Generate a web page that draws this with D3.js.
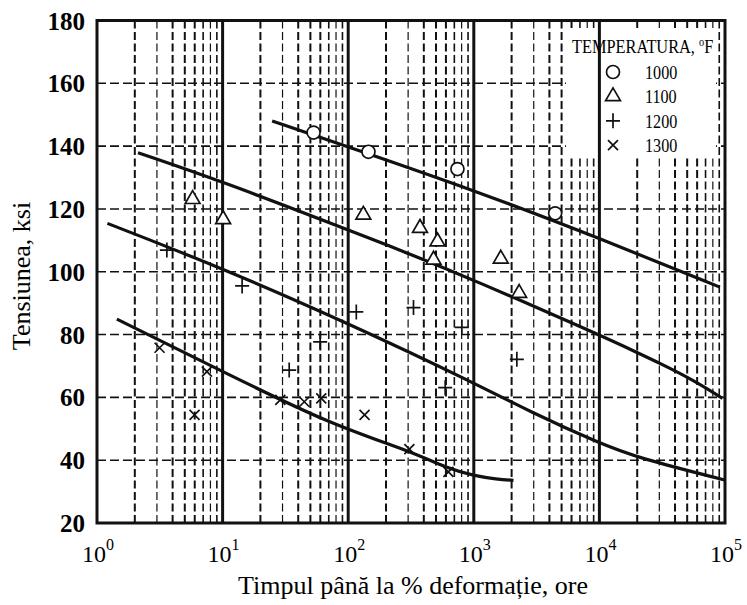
<!DOCTYPE html>
<html>
<head>
<meta charset="utf-8">
<script src="https://cdn.jsdelivr.net/npm/d3@7"></script>
<style>
  body { margin: 0; background: #fff; }
  svg { display: block; }
  text { font-family: "Liberation Serif", "DejaVu Serif", serif; }
</style>
</head>
<body>
<div id="chart"></div>
<script>
// creep curves: stress vs time to % strain, by temperature

// legend / series names
var temps = ["1000", "1100", "1200", "1300"]

// measured points (time in hours, stress in ksi)
var t1000 = [53, 145, 741, 4445]
var s1000 = [144.3, 138.2, 132.7, 118.6]
var t1100 = [5.77, 10.1, 132, 373, 514, 478, 1640, 2296]
var s1100 = [123.1, 116.7, 118.1, 113.9, 109.6, 103.8, 104.1, 93.2]
var t1200 = [3.6, 14.3, 33.9, 59.8, 116, 331, 803, 592, 2202]
var s1200 = [106.9, 95.5, 68.7, 77.7, 87.2, 88.6, 82.3, 63.1, 72.1]
var t1300 = [3.15, 7.5, 5.98, 28.8, 44.7, 61, 135, 307, 628]
var s1300 = [75.8, 68.2, 54.4, 59.2, 58.6, 59.7, 54.4, 43.5, 36.3]

// fitted curves
var c1000t = [24.8, 100, 1000, 10000, 91000]
var c1000s = [148.0, 139.8, 126.0, 110.7, 95.1]
var c1100t = [2.12, 10, 100, 259, 1000, 10000, 20700, 30200, 56200, 95500]
var c1100s = [137.9, 128.7, 113.3, 106.9, 97.4, 79.9, 74.0, 70.9, 65.5, 59.7]
var c1200t = [1.21, 10, 100, 1000, 2810, 10000, 20700, 99500]
var c1200s = [115.4, 101.1, 83.6, 64.7, 55.4, 45.4, 40.6, 33.7]
var c1300t = [1.44, 10, 72, 312, 628, 1000, 1525, 2070]
var c1300s = [84.9, 68.2, 51.4, 42.9, 37.2, 35.1, 33.9, 33.6]

// axis ticks
var xDecades = [1, 10, 100, 1000, 10000, 100000]
var xExp = ["0", "1", "2", "3", "4", "5"]
var yTicks = [20, 40, 60, 80, 100, 120, 140, 160, 180]

var width = 747, height = 605
var margin = {top: 20.5, right: 22, bottom: 82, left: 97}
var serif = "Liberation Serif"

var svg = d3.select("#chart")
    .append("svg")
    .attr("width", width)
    .attr("height", height)

var x = d3.scaleLog()
    .domain([1, 1e5])
    .range([margin.left, width - margin.right])
var y = d3.scaleLinear()
    .domain([20, 180])
    .range([height - margin.bottom, margin.top])

// minor vertical grid (2..9 in every decade)
var mant = function(t) { return Math.round(t / Math.pow(10, Math.floor(Math.log10(t) + 1e-9))) }
var minorW = {2: 2, 3: 1.2, 4: 2, 5: 2, 6: 2, 7: 1.6, 8: 1.2, 9: 1.6}
svg.append("g")
    .selectAll("line")
    .data(x.ticks().filter(function(t) { return mant(t) != 1 }))
    .enter().append("line")
        .attr("x1", function(d) { return x(d) })
        .attr("x2", function(d) { return x(d) })
        .attr("y1", y(180))
        .attr("y2", y(20))
        .attr("stroke", "#111")
        .attr("stroke-width", function(d) { return minorW[mant(d)] })
        .attr("stroke-dasharray", "8,3.5")

// horizontal grid
svg.append("g")
    .selectAll("line")
    .data(yTicks.slice(1, -1))
    .enter().append("line")
        .attr("x1", x(1))
        .attr("x2", x(1e5))
        .attr("y1", function(d) { return y(d) })
        .attr("y2", function(d) { return y(d) })
        .attr("stroke", "#111")
        .attr("stroke-width", 1.6)
        .attr("stroke-dasharray", "9,4")

// legend background hides the grid
svg.append("rect")
    .attr("x", 566)
    .attr("y", 28)
    .attr("width", 150)
    .attr("height", 129)
    .attr("fill", "#fff")

// decade lines
svg.append("g")
    .selectAll("line")
    .data(xDecades.slice(1, -1))
    .enter().append("line")
        .attr("x1", function(d) { return x(d) })
        .attr("x2", function(d) { return x(d) })
        .attr("y1", y(180))
        .attr("y2", y(20))
        .attr("stroke", "#111")
        .attr("stroke-width", 3)

// frame
svg.append("rect")
    .attr("x", x(1))
    .attr("y", y(180))
    .attr("width", x(1e5) - x(1))
    .attr("height", y(20) - y(180))
    .attr("fill", "none")
    .attr("stroke", "#111")
    .attr("stroke-width", 3)

// curves
var line = d3.line()
    .x(function(d) { return x(d[0]) })
    .y(function(d) { return y(d[1]) })
    .curve(d3.curveBasis)
var curves = [d3.zip(c1000t, c1000s), d3.zip(c1100t, c1100s), d3.zip(c1200t, c1200s), d3.zip(c1300t, c1300s)]
svg.append("g")
    .selectAll("path")
    .data(curves)
    .enter().append("path")
        .attr("d", line)
        .attr("fill", "none")
        .attr("stroke", "#111")
        .attr("stroke-width", 3.2)

// marker shapes
var markerPath = [
    d3.symbol().type(d3.symbolCircle).size(133)(),
    d3.symbol().type(d3.symbolTriangle).size(95)(),
    "M-7,0H7M0,-7.5V7.5",
    "M-5,-5L5,5M-5,5L5,-5"
]
var points = [d3.zip(t1000, s1000), d3.zip(t1100, s1100), d3.zip(t1200, s1200), d3.zip(t1300, s1300)]
points.forEach(function(pts, i) {
    svg.append("g")
        .selectAll("path")
        .data(pts)
        .enter().append("path")
            .attr("transform", function(d) { return "translate(" + x(d[0]) + "," + y(d[1]) + ")" })
            .attr("d", markerPath[i])
            .attr("fill", i < 2 ? "#fff" : "none")
            .attr("stroke", "#111")
            .attr("stroke-width", 1.7)
})

// y tick labels
svg.append("g")
    .selectAll("text")
    .data(yTicks)
    .enter().append("text")
        .attr("x", 85)
        .attr("y", function(d) { return y(d) + 9 })
        .attr("text-anchor", "end")
        .attr("font-family", serif)
        .style("font-size", "25px")
        .style("font-weight", "bold")
        .text(function(d) { return d })

// x tick labels (10^n)
var xl = svg.append("g")
    .selectAll("text")
    .data(xDecades)
    .enter().append("text")
        .attr("x", function(d) { return x(d) + 1 })
        .attr("y", 562)
        .attr("text-anchor", "middle")
        .attr("font-family", serif)
        .style("font-size", "24px")
xl.append("tspan").text("10")
xl.append("tspan")
    .attr("dy", -12)
    .style("font-size", "16px")
    .text(function(d, i) { return xExp[i] })

// axis titles
svg.append("text")
    .attr("x", (x(1) + x(1e5)) / 2 + 2)
    .attr("y", 594)
    .attr("text-anchor", "middle")
    .attr("font-family", serif)
    .style("font-size", "26px")
    .text("Timpul până la % deformație, ore")

svg.append("text")
    .attr("transform", "translate(30," + 276 + ") rotate(-90)")
    .attr("text-anchor", "middle")
    .attr("font-family", serif)
    .style("font-size", "26px")
    .text("Tensiunea, ksi")

// legend
var title = svg.append("text")
    .attr("transform", "translate(572,53) scale(0.86,1)")
    .attr("font-family", serif)
    .style("font-size", "19px")
title.append("tspan").text("TEMPERATURA, ")
title.append("tspan").attr("dy", -7).style("font-size", "12px").text("o")
title.append("tspan").attr("dy", 7).text("F")

temps.forEach(function(t, i) {
    var ly = 72 + i * 24.4
    svg.append("path")
        .attr("transform", "translate(613," + ly + ")")
        .attr("d", markerPath[i])
        .attr("fill", "none")
        .attr("stroke", "#111")
        .attr("stroke-width", 1.7)
    svg.append("text")
        .attr("transform", "translate(645," + (ly + 7) + ") scale(0.85,1)")
        .attr("font-family", serif)
        .style("font-size", "19px")
        .text(t)
})
</script>
</body>
</html>
